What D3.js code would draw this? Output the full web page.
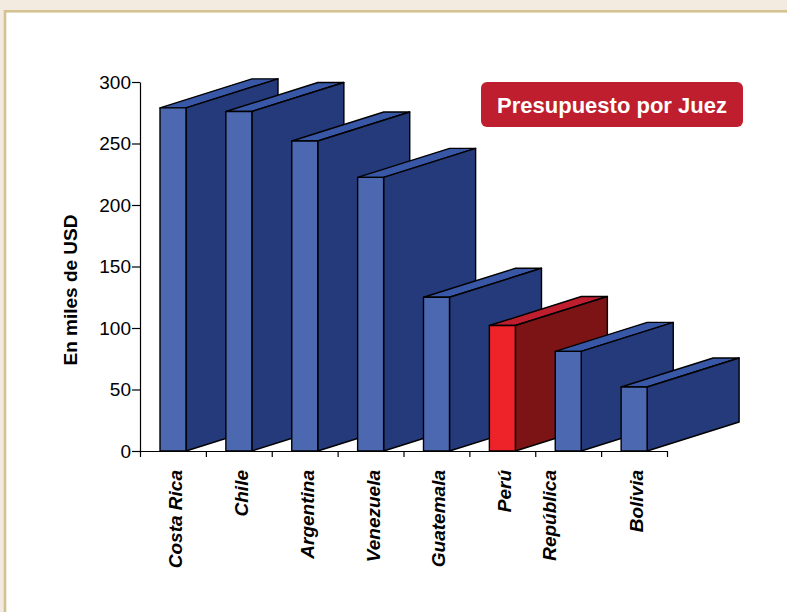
<!DOCTYPE html>
<html>
<head>
<meta charset="utf-8">
<script src="https://cdn.jsdelivr.net/npm/d3@7"></script>
<style>
  body { margin: 0; background: #f3ebdf; }
  svg { display: block; font-family: 'Liberation Sans', Arial, sans-serif; }
</style>
</head>
<body>
<script>
const countries = ['Costa Rica', 'Chile', 'Argentina', 'Venezuela', 'Guatemala', 'Perú', 'República', 'Bolivia'];
const budget = [279, 276, 252, 222.5, 125, 102, 81, 52];
const yTicks = [0, 50, 100, 150, 200, 250, 300];
const highlight = 'Perú';
const title = 'Presupuesto por Juez';
const yTitle = 'En miles de USD';

const w = 787;
const h = 612;
const padLeft = 140, padRight = 667, padTop = 82, padBottom = 451;
const depthX = 92, depthY = -29;

const blue = { front: '#4b68b0', side: '#253a7b', top: '#3857a6' };
const red = { front: '#ee2229', side: '#7c1416', top: '#be1e2d' };

const svg = d3.select('body').append('svg').attr('width', w).attr('height', h);

// frame
svg.append('rect').attr('x', 0).attr('y', 0).attr('width', w).attr('height', h).attr('fill', '#f3ebdf');
svg.append('rect').attr('x', 5).attr('y', 11.3).attr('width', w + 20).attr('height', h + 20)
   .attr('fill', '#fff').attr('stroke', '#d5c292').attr('stroke-width', 2.6);

const xScale = d3.scaleBand().domain(countries).range([padLeft, padRight]);
const xLin = d3.scaleLinear().domain([0, countries.length]).range([padLeft, padRight]);
const yScale = d3.scaleLinear().domain([0, 300]).range([padBottom, padTop]);

const faceW = 26;
const faceOff = 20;

const bars = svg.append('g').selectAll('g')
  .data(countries)
  .enter()
  .append('g');

bars.each(function(c, i) {
  const g = d3.select(this);
  const col = c === highlight ? red : blue;
  const x0 = xScale(c) + faceOff;
  const x1 = x0 + faceW;
  const yT = yScale(budget[i]);
  const y0 = yScale(0);
  const poly = (pts) => g.append('polygon').attr('points', pts.map(p => p.join(',')).join(' '))
                          .attr('stroke', '#000').attr('stroke-width', 1.4).attr('stroke-linejoin', 'round');
  poly([[x0, yT], [x0 + depthX, yT + depthY], [x1 + depthX, yT + depthY], [x1, yT]]).attr('fill', col.top);
  poly([[x1, yT], [x1 + depthX, yT + depthY], [x1 + depthX, y0 + depthY], [x1, y0]]).attr('fill', col.side);
  poly([[x0, yT], [x1, yT], [x1, y0], [x0, y0]]).attr('fill', col.front);
});

const yAxis = d3.axisLeft(yScale).tickValues(yTicks).tickSize(8).tickPadding(1).tickSizeOuter(0);
const gy = svg.append('g').attr('transform', 'translate(' + padLeft + ',0)').call(yAxis);
gy.selectAll('text').style('font-size', '19px').attr('fill', '#000');

const xAxis = d3.axisBottom(xLin).ticks(countries.length).tickFormat('').tickSize(6).tickSizeOuter(0);
svg.append('g').attr('transform', 'translate(0,' + padBottom + ')').call(xAxis);

svg.selectAll('.domain, .tick line').attr('stroke', '#000').attr('stroke-width', 1.2);

// category labels
const labelNudge = { 'República': -21 };
svg.append('g').selectAll('text')
  .data(countries)
  .enter()
  .append('text')
  .attr('transform', (d) => 'translate(' + (xScale(d) + xScale.bandwidth() / 2 + 9 + (labelNudge[d] || 0)) + ',470)rotate(-90)')
  .attr('text-anchor', 'end')
  .style('font-size', '19px')
  .style('font-weight', 'bold')
  .style('font-style', 'italic')
  .text((d) => d);

svg.append('text')
   .attr('transform', 'translate(77,290)rotate(-90)')
   .attr('text-anchor', 'middle')
   .style('font-size', '19px')
   .style('font-weight', 'bold')
   .text(yTitle);

// title badge
svg.append('rect').attr('x', 481).attr('y', 82).attr('width', 262).attr('height', 45).attr('rx', 6)
   .attr('fill', '#be1e2d');
svg.append('text').attr('x', 612).attr('y', 113).attr('text-anchor', 'middle')
   .style('font-size', '22px').style('font-weight', 'bold').attr('fill', '#fff')
   .text(title);
</script>
</body>
</html>
